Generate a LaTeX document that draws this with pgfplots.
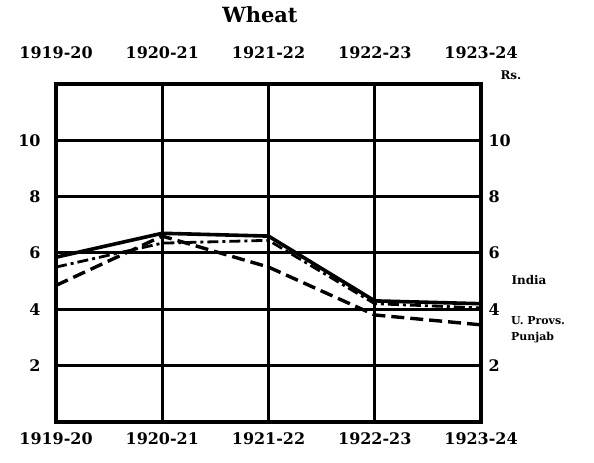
\documentclass[border=0pt]{standalone}
\usepackage{pgfplots}
\pgfplotsset{compat=1.18}
\usepackage{fontspec}
\setmainfont{DejaVu Serif}
\begin{document}
\begin{tikzpicture}
\path[use as bounding box] (-56bp,-41bp) rectangle (538bp,422bp);
\begin{axis}[at={(0,0)}, anchor=south west, scale only axis,
  width=425bp, height=338bp,
  xmin=0, xmax=4, ymin=0, ymax=12,
  xtick={0,1,2,3,4},
  xticklabels={1919-20,1920-21,1921-22,1922-23,1923-24},
  ytick={2,4,6,8,10},
  grid=major, major grid style={black, line width=3bp},
  axis line style={black, line width=3.4bp},
  tick style={draw=none},
  /pgf/number format/assume math mode=true,
  ticklabel style={font=\fontsize{16}{16}\selectfont\bfseries},
  xticklabel style={yshift=-7bp},
  yticklabel style={xshift=-12bp},
  clip=false]
\addplot[black, line width=3.6bp] coordinates {(0,5.85) (1,6.7) (2,6.6) (3,4.3) (4,4.2)};
\addplot[black, line width=2.8bp, dash pattern=on 11bp off 4bp on 3bp off 4bp] coordinates {(0,5.5) (1,6.35) (2,6.45) (3,4.2) (4,4.05)};
\addplot[black, line width=3.4bp, dash pattern=on 13bp off 6bp] coordinates {(0,4.85) (1,6.6) (2,5.5) (3,3.8) (4,3.45)};
\node[font=\fontsize{21}{21}\selectfont\bfseries] at (rel axis cs:0.48,1) [yshift=69bp] {Wheat};
\node[font=\fontsize{12}{12}\selectfont\bfseries, anchor=west] at (axis cs:4,12) [xshift=16bp, yshift=9bp] {Rs.};
\node[font=\fontsize{12}{12}\selectfont\bfseries, anchor=west] at (axis cs:4,5.05) [xshift=27bp] {India};
\node[font=\fontsize{11}{11}\selectfont\bfseries, anchor=west, inner sep=0pt] at (axis cs:4,3.6) [xshift=30bp] {U. Provs.};
\node[font=\fontsize{11}{11}\selectfont\bfseries, anchor=west, inner sep=0pt] at (axis cs:4,3.0) [xshift=30bp] {Punjab};
\end{axis}
\begin{axis}[at={(0,0)}, anchor=south west, scale only axis,
  width=425bp, height=338bp,
  xmin=0, xmax=4, ymin=0, ymax=12,
  xtick={0,1,2,3,4},
  xticklabels={1919-20,1920-21,1921-22,1922-23,1923-24},
  ytick={2,4,6,8,10},
  xticklabel pos=upper, yticklabel pos=right,
  axis line style={draw=none},
  tick style={draw=none},
  /pgf/number format/assume math mode=true,
  ticklabel style={font=\fontsize{16}{16}\selectfont\bfseries},
  xticklabel style={yshift=22bp},
  yticklabel style={xshift=4bp}]
\end{axis}
\end{tikzpicture}
\end{document}
